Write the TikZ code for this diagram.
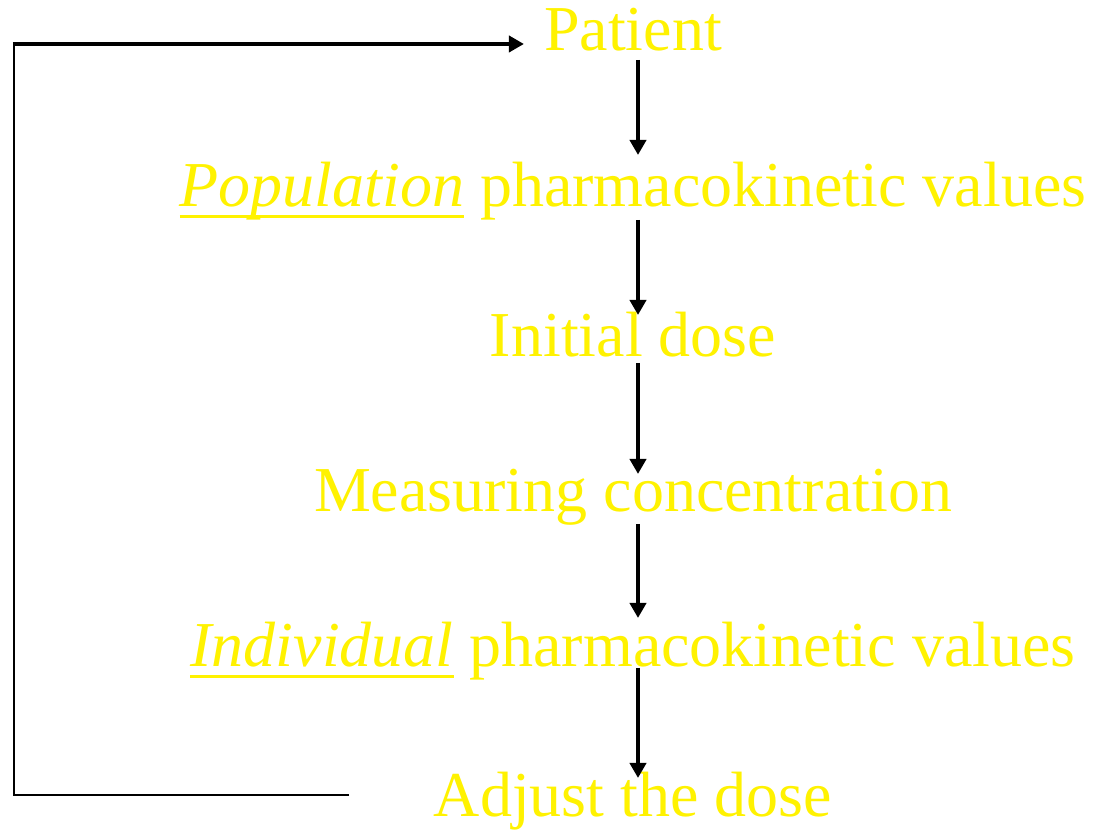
\documentclass[tikz,border=0pt]{standalone}
\usepackage{fontspec}
\setmainfont{Liberation Serif}
\usetikzlibrary{arrows.meta}
\newcommand\ulit[1]{\setbox0\hbox{\itshape #1}\rlap{\rule[-11pt]{\wd0}{2.5pt}}\box0\relax}
\tikzset{
  step text/.style={anchor=base, text=yellow, inner sep=0pt,
    font=\fontsize{64}{70}\selectfont},
  flow/.style={draw=black, line width=4pt,
    -{Triangle[length=15pt,width=16pt]}},
  loopline/.style={draw=black, line width=2.5pt},
}
\begin{document}
\begin{tikzpicture}[x=1pt,y=1pt]
\useasboundingbox[fill=white] (0,0) rectangle (1094,834);
\node[step text] (pat) at (633,783) {Patient};
\node[step text] (pop) at (633,627) {\ulit{Population} pharmacokinetic values};
\node[step text] (ini) at (633,477) {Initial dose};
\node[step text] (mea) at (633,322) {Measuring concentration};
\node[step text] (ind) at (633,167) {\ulit{Individual} pharmacokinetic values};
\node[step text] (adj) at (633,17) {Adjust the dose};
\draw[flow, shorten <=9pt, shorten >=52pt] ([xshift=5pt]pat.base) -- ([xshift=5pt]pop.base);
\draw[flow, shorten <=13pt, shorten >=42pt] ([xshift=5pt]pop.base) -- ([xshift=5pt]ini.base);
\draw[flow, shorten <=6pt, shorten >=38pt] ([xshift=5pt]ini.base) -- ([xshift=5pt]mea.base);
\draw[flow, shorten <=12pt, shorten >=49pt] ([xshift=5pt]mea.base) -- ([xshift=5pt]ind.base);
\draw[flow, shorten <=1pt, shorten >=39pt] ([xshift=5pt]ind.base) -- ([xshift=5pt]adj.base);
\coordinate (loopend) at (349,39);
\coordinate (cornerb) at (14,39);
\coordinate (cornert) at (14,790);
\draw[loopline] (loopend) -- (cornerb) -- (cornert);
\draw[flow] ([xshift=-1.25pt]cornert) -- ([xshift=-20pt,yshift=7pt]pat.base west);
\end{tikzpicture}
\end{document}
